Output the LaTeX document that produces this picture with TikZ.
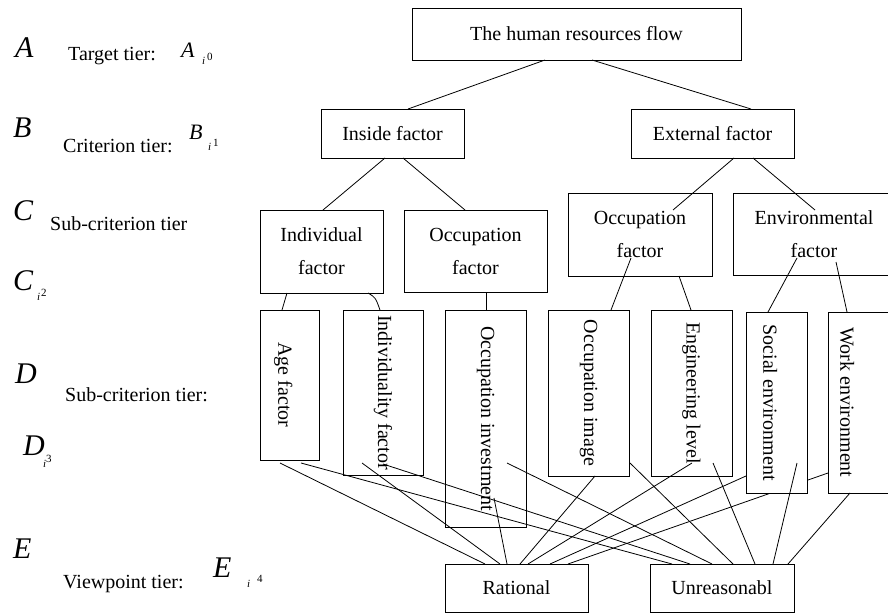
\documentclass[tikz,border=0pt]{standalone}
\usepackage{fontspec}
\setmainfont{Liberation Serif}
\usetikzlibrary{calc}
\begin{document}
\begin{tikzpicture}[x=1pt,y=-1pt,
  box/.style={draw, line width=1pt, inner sep=0pt, font=\fontsize{20}{33}\selectfont, align=center},
  vbox/.style={box, rotate=-90},
  link/.style={line width=0.8pt},
  lbl/.style={anchor=base west, inner sep=0pt, font=\fontsize{20}{24}\selectfont},
  big/.style={anchor=base west, inner sep=0pt, font=\fontsize{30}{36}\selectfont\itshape},
  mid/.style={anchor=base west, inner sep=0pt, font=\fontsize{22}{26}\selectfont\itshape},
  tiny/.style={anchor=base west, inner sep=0pt, font=\fontsize{11}{12}\selectfont\itshape},
  tinyup/.style={anchor=base west, inner sep=0pt, font=\fontsize{11}{12}\selectfont},
]
\useasboundingbox (0,0) rectangle (888,613);
\clip (0,0) rectangle (888,613);

% ---- left column labels
\node[big] (bigA) at (15,57) {A};
\node[lbl] (tierA) at (68,60) {Target tier:};
\node[mid] (symA) at (181,57) {A};
\node[tiny] (subA) at (202,64) {i};
\node[tinyup] (supA) at (207,60) {0};

\node[big] (bigB) at (13,137) {B};
\node[lbl] (tierB) at (63,152) {Criterion tier:};
\node[mid] (symB) at (189,139) {B};
\node[tiny] (subB) at (208,150) {i};
\node[tinyup] (supB) at (213,146) {1};

\node[big] (bigC) at (13,220) {C};
\node[lbl] (tierC) at (50,230) {Sub-criterion tier};
\node[big] (symC) at (13,290) {C};
\node[tiny] (subC) at (37,300) {i};
\node[tinyup] (supC) at (41,296) {2};

\node[big] (bigD) at (15,383) {D};
\node[lbl] (tierD) at (65,401) {Sub-criterion tier:};
\node[big] (symD) at (23,455) {D};
\node[tiny] (subD) at (43,467) {i};
\node[tinyup] (supD) at (46,462) {3};

\node[big] (bigE) at (13,558) {E};
\node[lbl] (tierE) at (63,588) {Viewpoint tier:};
\node[big] (symE) at (213,577) {E};
\node[tiny] (subE) at (247,587) {i};
\node[tinyup] (supE) at (257,582) {4};

% ---- boxes
\node[box, minimum width=329, minimum height=52] (top) at (576.5,34) {The human resources flow};
\node[box, minimum width=143, minimum height=49] (inside) at (392.5,133.5) {Inside factor};
\node[box, minimum width=163, minimum height=49] (ext) at (712.5,133.5) {External factor};
\node[box, minimum width=123, minimum height=83] (indiv) at (321.5,251.5) {Individual\\factor};
\node[box, minimum width=143, minimum height=82] (occL) at (475.5,251) {Occupation\\factor};
\node[box, minimum width=144, minimum height=83] (occR) at (640,234.5) {Occupation\\factor};
\node[box, minimum width=162, minimum height=82] (env) at (814,234) {Environmental\\factor};

\node[vbox, minimum width=150, minimum height=59, text height=26.5pt, text depth=4.3pt] (age) at (289.5,385) {Age factor};
\node[vbox, minimum width=165, minimum height=80] (ind2) at (383,392.5) {Individuality factor};
\node[vbox, minimum width=217, minimum height=81] (occinv) at (485.5,418.5) {Occupation investment};
\node[vbox, minimum width=166, minimum height=81] (occimg) at (588.5,393) {Occupation image};
\node[vbox, minimum width=166, minimum height=81] (eng) at (691.5,393) {Engineering level};
\node[vbox, minimum width=181, minimum height=67, text height=42.5pt, text depth=0pt] (work) at (861.5,402.5) {Work environment};

\node[box, minimum width=143, minimum height=48] (rat) at (516.5,588) {Rational};
\node[box, minimum width=144, minimum height=48] (unr) at (722,588) {Unreasonabl};

% ---- connector hidden partly behind the social box
\draw[link] ($(work.center)+(-33.5,70.5)$) -- ($(rat.center)+(51.5,-24)$);
\node[vbox, fill=white, minimum width=181, minimum height=61, text height=26.5pt, text depth=0pt] (social) at (776.5,402.5) {Social environment};

% ---- upper connectors
\draw[link] ($(top.center)+(-31.5,26)$) -- ($(inside.center)+(15.5,-24.5)$);
\draw[link] ($(top.center)+(15.5,26)$) -- ($(ext.center)+(38.5,-24.5)$);
\draw[link] ($(inside.center)+(-7.5,24.5)$) -- ($(indiv.center)+(1.5,-41.5)$);
\draw[link] ($(inside.center)+(10.5,24.5)$) -- ($(occL.center)+(-10.5,-41)$);
\draw[link] ($(ext.center)+(21.5,24.5)$) -- ($(occR.center)+(33,-24.5)$);
\draw[link] ($(ext.center)+(40.5,24.5)$) -- ($(env.center)+(1,-24)$);
\draw[link] ($(indiv.center)+(-34.5,41.5)$) -- ($(age.center)+(-7.5,-75)$);
\draw[link] ($(indiv.center)+(46.5,41.5)$) .. controls ($(indiv.center)+(54,46)$) .. ($(ind2.center)+(-3,-82.5)$);
\draw[link] ($(occL.center)+(10.5,41)$) -- ($(occinv.center)+(0.5,-108.5)$);
\draw[link] ($(occR.center)+(-9,23.5)$) -- ($(occimg.center)+(22.5,-83)$);
\draw[link] ($(occR.center)+(39,41.5)$) -- ($(eng.center)+(-0.5,-83)$);
\draw[link] ($(env.center)+(-17,24)$) -- ($(social.center)+(-8.5,-90.5)$);
\draw[link] ($(env.center)+(22,28)$) -- ($(work.center)+(-14.5,-90.5)$);

% ---- lower connectors
\draw[link] ($(age.center)+(-9.5,78)$) -- ($(rat.center)+(-31.5,-24)$);
\draw[link] ($(age.center)+(11.5,78)$) -- ($(unr.center)+(-50,-24)$);
\draw[link] ($(ind2.center)+(-21,70.5)$) -- ($(rat.center)+(-16.5,-24)$);
\draw[link] ($(ind2.center)+(0,71.5)$) -- ($(unr.center)+(-32,-24)$);
\draw[link] ($(occinv.center)+(8.5,79.5)$) -- ($(rat.center)+(-9.5,-24)$);
\draw[link] ($(occinv.center)+(21.5,44.5)$) -- ($(unr.center)+(-10,-24)$);
\draw[link] ($(occimg.center)+(6.5,83)$) -- ($(rat.center)+(3.5,-24)$);
\draw[link] ($(occimg.center)+(41.5,70)$) -- ($(unr.center)+(11,-24)$);
\draw[link] ($(eng.center)+(0.5,70)$) -- ($(rat.center)+(11.5,-24)$);
\draw[link] ($(eng.center)+(21.5,70)$) -- ($(unr.center)+(33,-24)$);
\draw[link] ($(social.center)+(-30.5,73.5)$) -- ($(rat.center)+(33.5,-24)$);
\draw[link] ($(social.center)+(20.5,60.5)$) -- ($(unr.center)+(51,-24)$);
\draw[link] ($(work.center)+(-11.5,90.5)$) -- ($(unr.center)+(66,-24)$);
\end{tikzpicture}
\end{document}
